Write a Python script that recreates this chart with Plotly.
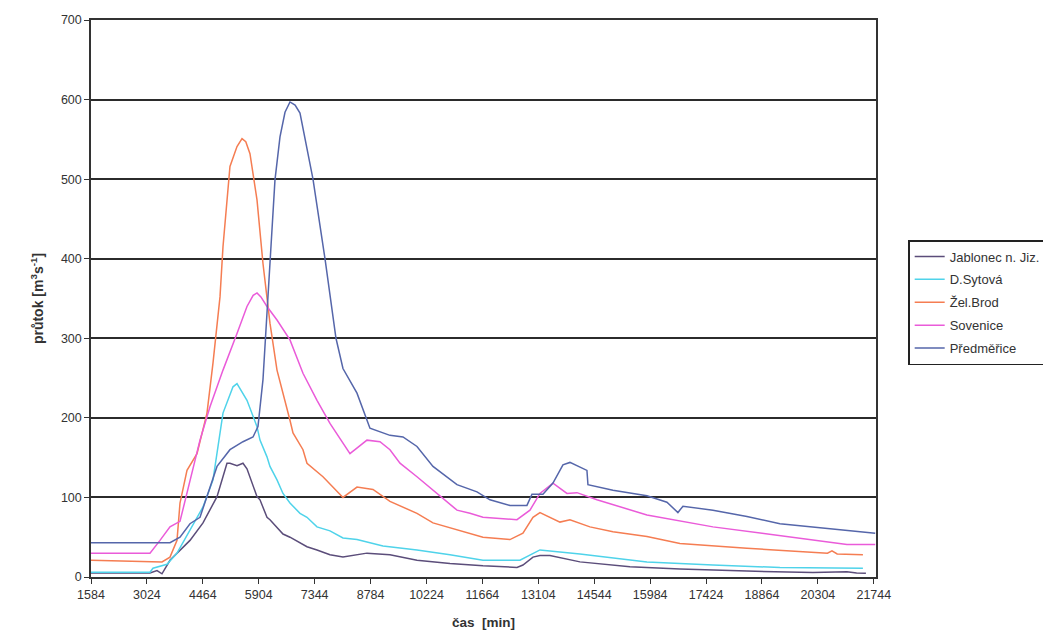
import plotly.graph_objects as go

# ---- data (time in minutes, discharge in m3/s) ----
t_jab = [1584, 3103, 3284, 3361, 3412, 3618, 4133, 4468, 4829, 5086, 5163, 5344, 5498, 5601, 5678,
         5859, 5936, 6116, 6193, 6528, 6708, 7146, 7404, 7738, 8073, 8691, 9283, 9979, 10828,
         11678, 12554, 12708, 12966, 13146, 13403, 14176, 15463, 16751, 18476, 20176, 21051, 21300, 21540]
q_jab = [5, 5, 8, 6, 4, 21, 46, 68, 101, 143, 143, 140, 143, 136, 126,
         101, 97, 75, 72, 54, 50, 38, 34, 28, 25, 30, 28, 21, 17,
         14, 12, 15, 25, 27, 27, 19, 13, 10, 7.5, 5.5, 6.7, 5, 4.6]

t_syt = [1584, 3103, 3180, 3541, 3799, 4133, 4468, 4726, 4983, 5241, 5344, 5601, 5859, 5936, 6116,
         6193, 6374, 6528, 6708, 6966, 7146, 7404, 7738, 8073, 8434, 9103, 9979, 10828, 11678,
         12631, 12889, 13146, 14176, 15901, 17601, 19326, 21463]
q_syt = [6, 6, 11, 16, 30, 59, 88, 122, 206, 239, 243, 222, 189, 172, 151,
         139, 122, 105, 93, 80, 75, 63, 58, 49, 47, 39, 34, 28, 21,
         21, 28, 34, 29, 19, 15, 12, 11]

t_zel = [1584, 3103, 3412, 3618, 3799, 3876, 4056, 4314, 4571, 4726, 4906, 4983, 5163, 5344, 5473,
         5570, 5678, 5859, 6013, 6193, 6374, 6708, 6786, 7043, 7146, 7558, 8073, 8434, 8846, 9283,
         9979, 10391, 11009, 11678, 12373, 12708, 12966, 13146, 13661, 13918, 14433, 15026,
         15901, 16751, 18476, 20176, 20550, 20666, 20800, 21463]
q_zel = [21, 20, 19, 25, 46, 93, 134, 155, 206, 269, 352, 415, 516, 541, 551,
         547, 532, 474, 394, 319, 260, 197, 181, 160, 143, 126, 100, 113, 110, 95,
         80, 68, 59, 50, 47, 55, 75, 81, 69, 72, 63, 57,
         51, 42, 36, 31, 30, 33, 29, 28]

t_sov = [1584, 3103, 3361, 3618, 3876, 4133, 4391, 4648, 4983, 5344, 5601, 5760, 5859, 5960, 6116, 6374, 6708,
         7043, 7404, 7738, 8073, 8253, 8691, 9026, 9283, 9541, 9979, 10494, 11009, 11343, 11678,
         12554, 12889, 13146, 13481, 13841, 14099, 14613, 15901, 17601, 19326, 21051, 21780]
q_sov = [30, 30, 46, 63, 70, 122, 172, 214, 260, 306, 340, 354, 357, 352, 340, 323, 298,
         256, 222, 193, 168, 155, 172, 170, 160, 143, 126, 105, 84, 80, 75,
         72, 84, 105, 118, 105, 106, 97, 78, 63, 52, 41, 41]

t_pre = [1584, 3618, 3876, 4133, 4391, 4571, 4829, 5163, 5498, 5756, 5884, 6013, 6193, 6322, 6451,
         6580, 6708, 6840, 6966, 7223, 7301, 7610, 7893, 8073, 8434, 8768, 9283, 9618, 9979, 10391, 11009,
         11524, 11858, 12373, 12811, 12940, 13223, 13481, 13738, 13918, 14356, 14382, 15026,
         15901, 16416, 16699, 16828, 17601, 18476, 19326, 20176, 21051, 21780]
q_pre = [43, 43, 50, 67, 75, 101, 139, 160, 170, 176, 189, 248, 390, 499, 553,
         584, 597, 593, 583, 520, 500, 400, 300, 262, 231, 187, 178, 176, 164, 139, 116,
         107, 97, 90, 90, 104, 104, 118, 141, 144, 134, 116, 109,
         102, 94, 81, 89, 84, 76, 67, 63, 58, 55]

series_names = ["Jablonec n. Jiz.", "D.Sytová", "Žel.Brod", "Sovenice", "Předměřice"]
series_colors = ["#5b4d7a", "#4fd3ea", "#f57d52", "#ea5bd9", "#5566aa"]

x_ticks = [1584 + 1440 * k for k in range(15)]
y_ticks = [0, 100, 200, 300, 400, 500, 600, 700]

# ---- figure ----
fig = go.Figure()
for i, (name, color, t, q) in enumerate(zip(series_names, series_colors,
                                            [t_jab, t_syt, t_zel, t_sov, t_pre],
                                            [q_jab, q_syt, q_zel, q_sov, q_pre])):
    fig.add_trace(go.Scatter(x=t, y=q, mode="lines", name=name, legendgroup=f"g{i}",
                             line=dict(color=color, width=1.5)))

font_family = "Liberation Sans Narrow, Liberation Sans, Arial, sans-serif"

fig.update_layout(
    width=1043, height=622,
    margin=dict(l=83, r=175, t=12, b=53, autoexpand=False),
    paper_bgcolor="white", plot_bgcolor="white",
    font=dict(family=font_family, size=12, color="#333333"),
    showlegend=True,
    legend=dict(x=1.041, y=0.605, xanchor="left", yanchor="top",
                bordercolor="#222222", borderwidth=1.5, bgcolor="white",
                font=dict(family=font_family, size=13, color="#333333"),
                tracegroupgap=3, itemwidth=30),
    xaxis=dict(range=[1584, 21800], tickmode="array", tickvals=x_ticks,
               ticktext=[str(v) for v in x_ticks], automargin=False,
               showgrid=False, zeroline=False,
               showline=True, linecolor="#333333", linewidth=1.5, mirror=True,
               ticks="outside", ticklen=5, tickcolor="#333333",
               tickfont=dict(size=12.5),
               title=dict(text="<b>čas  [min]</b>", font=dict(size=13.5), standoff=17)),
    yaxis=dict(range=[0, 700], tickmode="array", tickvals=y_ticks, automargin=False,
               showgrid=True, gridcolor="#2b2b2b", gridwidth=1.5, zeroline=False,
               showline=True, linecolor="#333333", linewidth=1.5, mirror=True,
               ticks="outside", ticklen=5, tickcolor="#333333",
               tickfont=dict(size=12.5),
               title=dict(text="<b>průtok [m<sup>3</sup>s<sup>-1</sup>]</b>",
                          font=dict(size=14), standoff=14)),
)

fig.write_html("out.html")
